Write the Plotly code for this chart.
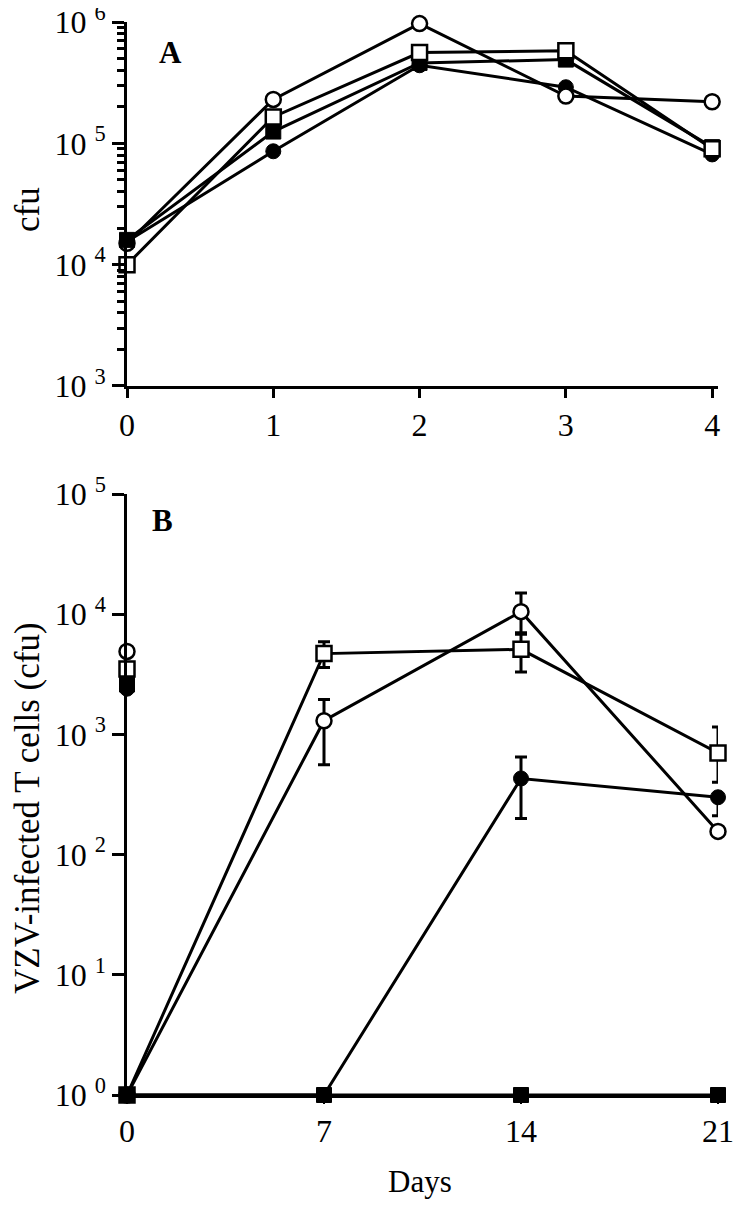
import plotly.graph_objects as go

# ---------------- Panel A data ----------------
days_a = [0, 1, 2, 3, 4]
a_open_circle = [1.5e4, 2.3e5, 9.7e5, 2.45e5, 2.2e5]
a_open_square = [1.0e4, 1.65e5, 5.6e5, 5.8e5, 9.0e4]
a_filled_square = [1.6e4, 1.25e5, 4.6e5, 4.9e5, 9.3e4]
a_filled_circle = [1.55e4, 8.6e4, 4.4e5, 2.9e5, 8.1e4]

# ---------------- Panel B data ----------------
days_b = [0, 7, 14, 21]
b_open_circle = [1, 1300, 10500, 156]
b_open_circle_plus = [0, 650, 4500, 0]
b_open_circle_minus = [0, 740, 3500, 0]

b_open_square = [1, 4700, 5100, 700]
b_open_square_plus = [0, 1200, 1700, 450]
b_open_square_minus = [0, 1100, 1800, 300]

b_filled_circle = [1, 1, 430, 300]
b_filled_circle_plus = [0, 0, 220, 0]
b_filled_circle_minus = [0, 0, 230, 90]

b_filled_square = [1, 1, 1, 1]

# day-0 inoculum values (markers only)
b0_days = [0]
b0_open_circle = [4900]
b0_open_square = [3500]
b0_filled_square = [2600]
b0_filled_circle = [2400]

a_ticks = [1e3, 1e4, 1e5, 1e6]
a_ticktext = ["10 <sup>3</sup>", "10 <sup>4</sup>", "10 <sup>5</sup>", "10 <sup>6</sup>"]
a_minor_ticks = [2e3, 3e3, 4e3, 5e3, 6e3, 7e3, 8e3, 9e3,
                 2e4, 3e4, 4e4, 5e4, 6e4, 7e4, 8e4, 9e4,
                 2e5, 3e5, 4e5, 5e5, 6e5, 7e5, 8e5, 9e5]
b_ticks = [1, 10, 100, 1e3, 1e4, 1e5]
b_ticktext = ["10 <sup>0</sup>", "10 <sup>1</sup>", "10 <sup>2</sup>", "10 <sup>3</sup>",
              "10 <sup>4</sup>", "10 <sup>5</sup>"]

FONT = "Liberation Serif"
LW = 3
MS = 15

def marker(kind):
    if kind == "oc":
        return dict(symbol="circle", size=MS, color="white", line=dict(color="black", width=2.5))
    if kind == "os":
        return dict(symbol="square", size=MS, color="white", line=dict(color="black", width=2.5))
    if kind == "fc":
        return dict(symbol="circle", size=MS, color="black", line=dict(color="black", width=1))
    return dict(symbol="square", size=MS, color="black", line=dict(color="black", width=1))

def err(plus, minus):
    return dict(type="data", symmetric=False, array=plus, arrayminus=minus,
                color="black", thickness=3, width=6)

fig = go.Figure()

# Panel A
for ys, k in [(a_filled_circle, "fc"), (a_open_circle, "oc"),
              (a_filled_square, "fs"), (a_open_square, "os")]:
    fig.add_trace(go.Scatter(x=days_a, y=ys, mode="lines+markers", marker=marker(k),
                             line=dict(color="black", width=LW), cliponaxis=False,
                             xaxis="x", yaxis="y", showlegend=False))

# Panel B
fig.add_trace(go.Scatter(x=days_b, y=b_filled_circle, mode="lines+markers", marker=marker("fc"),
                         line=dict(color="black", width=LW), cliponaxis=False,
                         error_y=err(b_filled_circle_plus, b_filled_circle_minus),
                         xaxis="x2", yaxis="y2", showlegend=False))
fig.add_trace(go.Scatter(x=days_b, y=b_open_circle, mode="lines+markers", marker=marker("oc"),
                         line=dict(color="black", width=LW), cliponaxis=False,
                         error_y=err(b_open_circle_plus, b_open_circle_minus),
                         xaxis="x2", yaxis="y2", showlegend=False))
fig.add_trace(go.Scatter(x=days_b, y=b_open_square, mode="lines+markers", marker=marker("os"),
                         line=dict(color="black", width=LW), cliponaxis=False,
                         error_y=err(b_open_square_plus, b_open_square_minus),
                         xaxis="x2", yaxis="y2", showlegend=False))
fig.add_trace(go.Scatter(x=days_b, y=b_filled_square, mode="lines+markers", marker=marker("fs"),
                         line=dict(color="black", width=LW), cliponaxis=False,
                         xaxis="x2", yaxis="y2", showlegend=False))
for ys, k in [(b0_filled_circle, "fc"), (b0_filled_square, "fs"),
              (b0_open_square, "os"), (b0_open_circle, "oc")]:
    fig.add_trace(go.Scatter(x=b0_days, y=ys, mode="markers", marker=marker(k), cliponaxis=False,
                             xaxis="x2", yaxis="y2", showlegend=False))

tickfont = dict(family=FONT, size=32, color="black")

# plot area on the page (pixels): left 127, right 718, top 22, bottom 1095
# (the page body adds an 8 px offset to the figure's own margins)
def ann(text, xp, yp, size, angle=0):
    return dict(text=text, x=(xp - 127) / 591, y=(1095 - yp) / 1073, xref="paper", yref="paper",
                showarrow=False, textangle=angle, xanchor="center", yanchor="middle",
                font=dict(family=FONT, size=size, color="black"))

fig.update_layout(
    width=751, height=1209,
    margin=dict(l=119, r=41, t=14, b=122, autoexpand=False),
    paper_bgcolor="white", plot_bgcolor="white",
    font=dict(family=FONT, color="black"),
    xaxis=dict(domain=[0, 1], anchor="y", range=[0, 4.04], tickvals=days_a,
               showline=True, linecolor="black", linewidth=3, ticks="outside",
               ticklen=9, tickwidth=3, tickcolor="black", showgrid=False, zeroline=False,
               automargin=False, ticklabeloverflow="allow", tickfont=tickfont),
    yaxis=dict(domain=[0.6608, 1], anchor="x", type="log", range=[3, 6],
               tickvals=a_ticks, ticktext=a_ticktext,
               showline=True, linecolor="black", linewidth=3, ticks="outside",
               ticklen=12, tickwidth=3, tickcolor="black", showgrid=False, zeroline=False,
               minor=dict(tickmode="array", tickvals=a_minor_ticks, ticks="outside",
                          ticklen=7, tickwidth=2.5, tickcolor="black", showgrid=False),
               automargin=False, ticklabeloverflow="allow", tickfont=tickfont),
    xaxis2=dict(domain=[0, 1], anchor="y2", range=[0, 21], tickvals=days_b,
                showline=True, linecolor="black", linewidth=3, ticks="outside",
                ticklen=6, tickwidth=2, tickcolor="black", showgrid=False, zeroline=False,
                automargin=False, ticklabeloverflow="allow", tickfont=tickfont),
    yaxis2=dict(domain=[0, 0.5601], anchor="x2", type="log", range=[0, 5],
                tickvals=b_ticks, ticktext=b_ticktext,
                showline=True, linecolor="black", linewidth=2.5, ticks="outside",
                ticklen=12, tickwidth=2.5, tickcolor="black", showgrid=False, zeroline=False,
                automargin=False, ticklabeloverflow="allow", tickfont=tickfont),
    annotations=[
        ann("<b>A</b>", 170, 52, 31),
        ann("<b>B</b>", 162, 520, 31),
        ann("cfu", 27, 210, 35, -90),
        ann("VZV-infected T cells (cfu)", 27, 808, 35, -90),
        ann("Days", 420, 1181, 31),
    ],
)

fig.write_html("out.html")
